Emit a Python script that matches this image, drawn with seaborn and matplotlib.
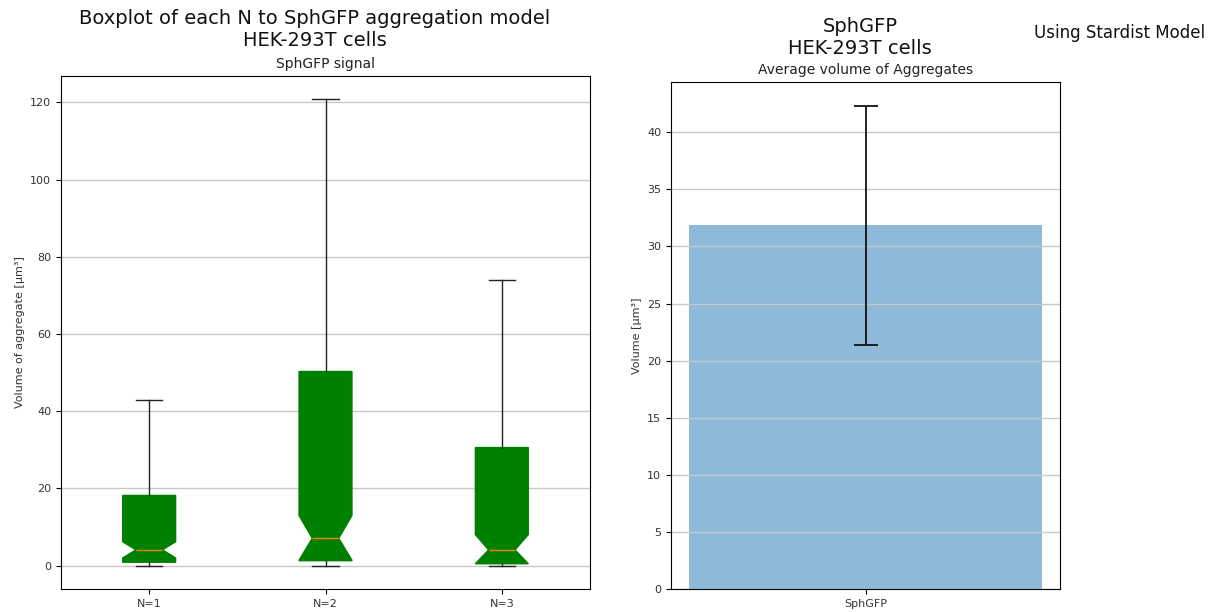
import matplotlib
matplotlib.use("Agg")
import matplotlib.pyplot as plt
import seaborn as sns

# ---- data ----
groups = ["N=1", "N=2", "N=3"]
whisker_low = [0.0, 0.0, 0.0]
q1 = [0.9, 1.3, 0.5]
median = [4.1, 7.1, 4.1]
q3 = [18.2, 50.3, 30.6]
whisker_high = [43.0, 120.8, 74.0]
notch_low = [2.0, 1.4, 0.5]
notch_high = [6.2, 13.0, 8.05]

bar_labels = ["SphGFP"]
bar_mean = [31.85]
bar_err = [10.45]

W, H = 1218, 612
fig = plt.figure(figsize=(W / 100, H / 100), dpi=100)

ax1 = fig.add_axes([61 / W, 1 - 589 / H, (590 - 61) / W, (589 - 76) / H])
ax2 = fig.add_axes([671 / W, 1 - 589 / H, (1060 - 671) / W, (589 - 82) / H])

grid_kw = dict(color="#c8c8c8", linewidth=1.0)

# ---- left: notched boxplot from summary statistics ----
stats = []
for i, g in enumerate(groups):
    stats.append(dict(label=g, whislo=whisker_low[i], q1=q1[i], med=median[i],
                      q3=q3[i], whishi=whisker_high[i], cilo=notch_low[i],
                      cihi=notch_high[i], fliers=[]))
ax1.bxp(stats, positions=[1, 2, 3], widths=0.3, shownotches=True,
        patch_artist=True, showfliers=False,
        boxprops=dict(facecolor="green", edgecolor="green"),
        medianprops=dict(color="#ff7f0e"),
        whiskerprops=dict(color="#222222"),
        capprops=dict(color="#222222"))
ax1.set_xlim(0.5, 3.5)
ax1.yaxis.grid(True, **grid_kw)
ax1.set_ylabel("Volume of aggregate [µm³]", fontsize=8, color="#333333")
ax1.set_title("SphGFP signal", fontsize=10, color="#222222")
ax1.tick_params(labelsize=8, labelcolor="#333333")

# ---- right: bar with error bar ----
sns.barplot(x=bar_labels, y=bar_mean, color="#1f77b4", alpha=0.5,
            saturation=1, errorbar=None, width=0.8, ax=ax2)
ax2.errorbar(x=list(range(len(bar_labels))), y=bar_mean, yerr=bar_err,
             fmt="none", ecolor="#111111", elinewidth=1.3, capsize=8.6,
             capthick=1.3)
ax2.set_xlim(-0.44, 0.44)
ax2.set_ylim(0, 44.4)
ax2.yaxis.grid(True, **grid_kw)
ax2.set_ylabel("Volume [µm³]", fontsize=8, color="#333333")
ax2.set_xlabel("")
ax2.set_title("Average volume of Aggregates", fontsize=10, color="#222222")
ax2.tick_params(labelsize=8, labelcolor="#333333")

# ---- figure texts ----
fig.text(315 / W, 1 - 9 / H,
         "Boxplot of each N to SphGFP aggregation model\nHEK-293T cells",
         ha="center", va="top", fontsize=14, color="#111111")
fig.text(860 / W, 1 - 17 / H, "SphGFP\nHEK-293T cells",
         ha="center", va="top", fontsize=14, color="#111111")
fig.text(1120 / W, 1 - 24 / H, "Using Stardist Model",
         ha="center", va="top", fontsize=12, color="#111111")

fig.savefig("out.png", dpi=100)
